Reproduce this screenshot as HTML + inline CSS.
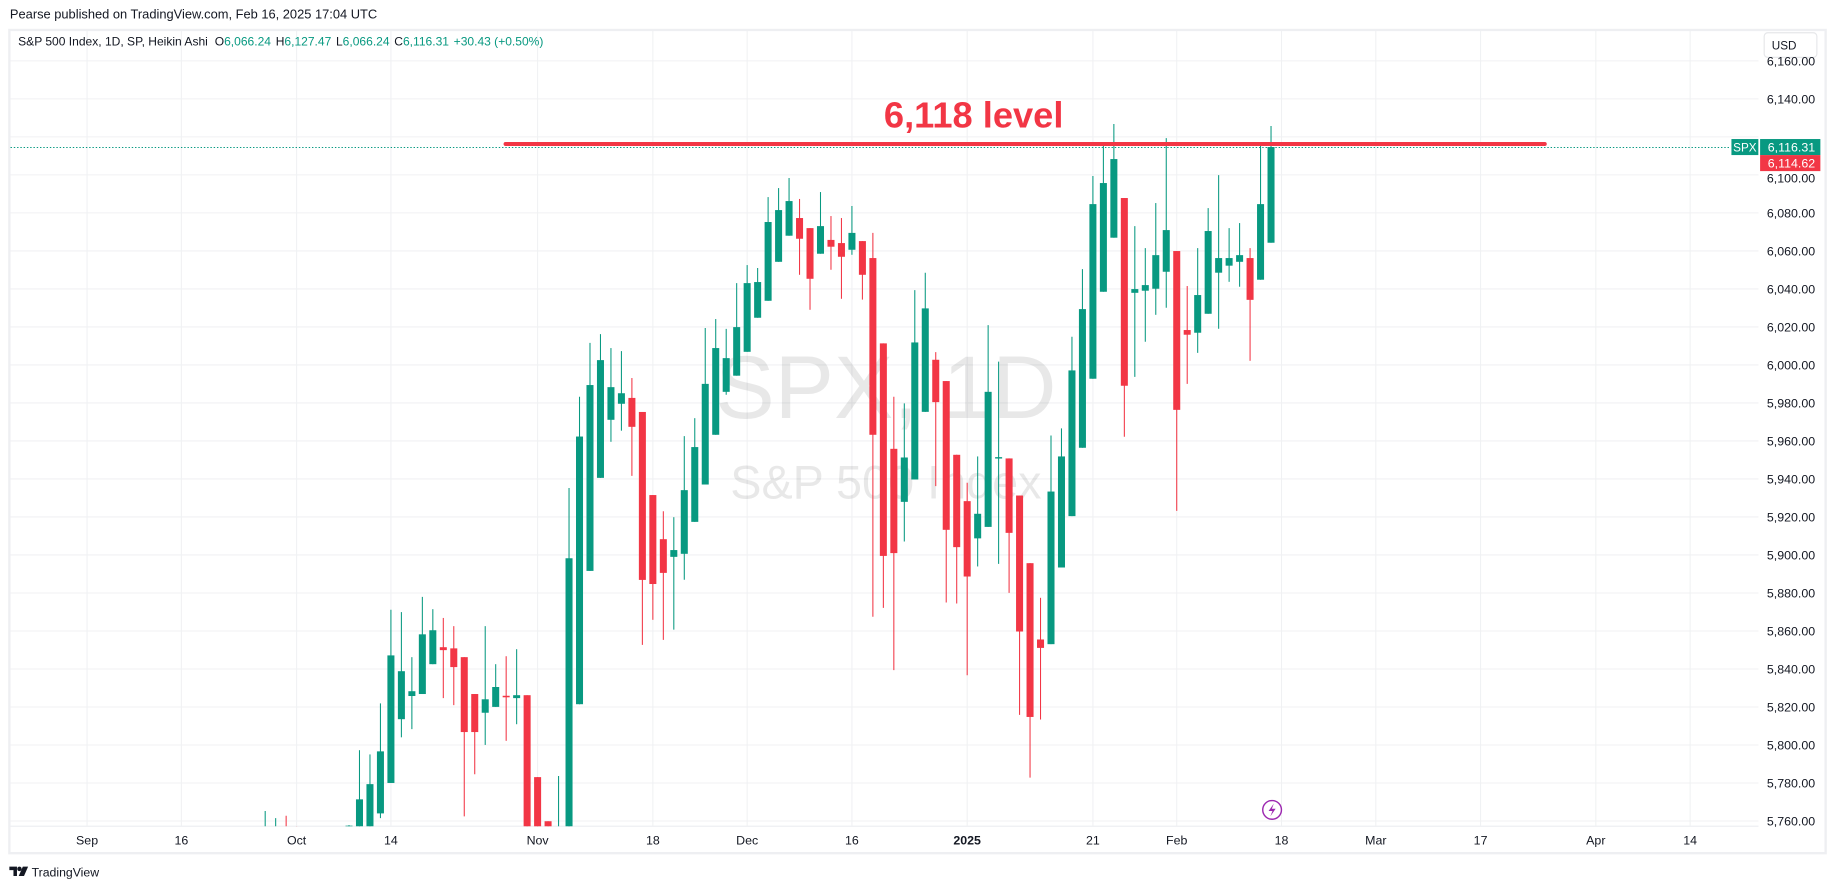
<!DOCTYPE html>
<html><head><meta charset="utf-8"><style>
html,body{margin:0;padding:0;background:#fff;}
svg{display:block;}
text{font-family:"Liberation Sans","DejaVu Sans",sans-serif;}
</style></head><body>
<svg id="s" width="1835" height="889" viewBox="0 0 1568 759.6" preserveAspectRatio="none" xmlns="http://www.w3.org/2000/svg">
<rect x="0" y="0" width="1568" height="759.6" fill="#fff"/>
<text x="8.5" y="16" font-size="11" fill="#131722">Pearse published on TradingView.com, Feb 16, 2025 17:04 UTC</text>
<rect x="8" y="25.6" width="1552" height="703.4" fill="none" stroke="#eeeff2" stroke-width="2"/>
<defs><clipPath id="pc"><rect x="9" y="26.5" width="1493.6" height="679.5"/></clipPath></defs>
<g id="grid" stroke="#f0f1f3" stroke-width="0.9"></g>
<line x1="9" y1="706" x2="1502.6" y2="706" stroke="#eeeff2" stroke-width="1"/>
<text x="757" y="357" font-size="76" fill="#000" fill-opacity="0.09" text-anchor="middle">SPX, 1D</text>
<text x="757" y="426" font-size="40" fill="#000" fill-opacity="0.09" text-anchor="middle">S&amp;P 500 Index</text>
<g id="candles" clip-path="url(#pc)"></g>
<line x1="9" y1="126" x2="1479" y2="126" stroke="#089981" stroke-width="0.9" stroke-dasharray="1.2,1.6"/>
<line x1="432" y1="123" x2="1320" y2="123" stroke="#f23645" stroke-width="3.4" stroke-linecap="round"/>
<text x="832" y="109" font-size="31" font-weight="bold" fill="#f23645" text-anchor="middle">6,118 level</text>
<text x="15.5" y="39" font-size="10.3" fill="#131722">S&amp;P 500 Index, 1D, SP, Heikin Ashi <tspan dx="3">O</tspan><tspan fill="#089981">6,066.24</tspan><tspan dx="4">H</tspan><tspan fill="#089981">6,127.47</tspan><tspan dx="4">L</tspan><tspan fill="#089981">6,066.24</tspan><tspan dx="4">C</tspan><tspan fill="#089981">6,116.31</tspan><tspan dx="4" fill="#089981">+30.43 (+0.50%)</tspan></text>
<rect x="1507.5" y="28" width="45" height="21" rx="3" fill="#fff" stroke="#e6e7ea" stroke-width="1"/>
<text x="1514" y="42.5" font-size="10" fill="#131722">USD</text>
<g id="plabels" font-size="10.6" fill="#131722" text-anchor="end"></g>
<rect x="1479.5" y="118.8" width="23" height="13.7" fill="#089981"/>
<text x="1491" y="129.3" font-size="10" fill="#fff" text-anchor="middle">SPX</text>
<rect x="1504" y="118.8" width="51.5" height="13.7" fill="#089981"/>
<text x="1551" y="129.5" font-size="10.6" fill="#fff" text-anchor="end">6,116.31</text>
<rect x="1504" y="132.5" width="51.5" height="13.7" fill="#f23645"/>
<text x="1551" y="143.2" font-size="10.6" fill="#fff" text-anchor="end">6,114.62</text>
<g id="dlabels" font-size="10.6" fill="#131722" text-anchor="middle"></g>
<circle cx="1087" cy="692" r="8" fill="#fff" stroke="#9c27b0" stroke-width="1.2"/>
<path d="M1088.5 686.5 L1084 693 L1087.3 693 L1085.5 697.5 L1090 691 L1086.8 691 Z" fill="#9c27b0"/>
<g transform="translate(8,745)">
<path d="M0 -4.5 H6.5 V3.5 H3.5 V-1.5 H0 Z" fill="#131722"/>
<circle cx="8.6" cy="-2.6" r="1.9" fill="#131722"/>
<path d="M11.5 -4.5 H16 L12.5 3.5 H8 Z" fill="#131722"/>
<text x="19" y="3.8" font-size="10.5" fill="#131722">TradingView</text>
</g>
</svg>
<script>
var NS="http://www.w3.org/2000/svg";
function el(p,t,a,txt){var e=document.createElementNS(NS,t);for(var k in a)e.setAttribute(k,a[k]);if(txt)e.textContent=txt;document.getElementById(p).appendChild(e);}
function yp(p){return 701.5-(p-5760)*1.6237;}
for(var p=5760;p<=6160;p+=20){var y=yp(p);el("grid","line",{x1:9,y1:y,x2:1502.6,y2:y});
 if(p!=6120&&p!=6100)el("plabels","text",{x:1551,y:y+3.8},p.toLocaleString("en-US")+".00");}
el("plabels","text",{x:1551,y:yp(6100)+6.5},"6,100.00");
var dl=[["Sep",0],["16",9],["Oct",20],["14",29],["Nov",43],["18",54],["Dec",63],["16",73],["2025",84],["21",96],["Feb",104],["18",114],["Mar",123],["17",133],["Apr",144],["14",153]];
dl.forEach(function(d){var x=74.4+8.953*d[1];el("grid","line",{x1:x,y1:26.5,x2:x,y2:706});
 var a={x:x,y:721.5};if(d[0]=="2025")a["font-weight"]="bold";el("dlabels","text",a,d[0]);});
var G="#089981",R="#f23645";
var c=[[17,'g',0,0,693,707],[18,'g',0,0,699,707],[19,'r',0,0,697,707],[20,'r',706,707,706,707],[25,'g',705.5,707,705,707],
[26,'g',683,710,641,710],[27,'g',670,710,644.6,710],[28,'g',642,695,601,699],[29,'g',560,669,521,669],[30,'g',573.5,614.5,523,630],
[31,'g',590.6,594.7,561.5,623],[32,'g',542,593,510,593],[33,'g',538.5,567.5,520.5,567.5],[34,'r',553,555.5,528,596.5],[35,'r',554,570,535,602.5],
[36,'r',561.5,625.5,561.5,697.5],[37,'r',593,625.5,593,661.5],[38,'g',597.5,609,535,636.5],[39,'g',587,604,567.5,604],[40,'r',594.5,595.8,560.7,633],
[41,'g',594,596.5,554.7,618.8],[42,'r',594,710,594,710],[43,'r',664,710,664,710],[44,'r',701.7,710,701.7,710],[45,'g',0,0,663,710],
[46,'g',477,710,417,710],[47,'g',373,601.7,339,601.7],[48,'g',329,487.8,293,487.8],[49,'g',307.7,408.3,285.5,408.3],[50,'g',330.8,358.7,297.4,377.5],
[51,'g',336,345,300,368],[52,'r',340,364.7,323,406.6],[53,'r',352,495.5,352,551],[54,'r',423,499,423,529.6],[55,'r',460.7,489.5,436.8,546.7],
[56,'g',470,475.8,441.9,538],[57,'g',418.8,473.2,372.6,495.4],[58,'g',382,445.9,357.3,445.9],[59,'g',328,414,280.3,414],[60,'g',297.4,371.5,272.6,371.5],
[61,'g',306,334.8,281,337.3],[62,'g',279.5,321,241.9,321],[63,'g',241.9,300.6,226.5,300.6],[64,'g',241,271.5,229,271.5],[65,'g',189.7,257,168.4,257],
[66,'g',179.5,223.7,160.7,223.7],[67,'g',171.8,201.4,152.1,201.4],[68,'r',186.3,204,170,234.8],[69,'r',194.9,238.2,194.9,264.7],[70,'g',193.2,216.8,164.1,216.8],
[71,'r',205,210.8,184.6,230.5],[72,'r',207.7,219.4,186.3,255.3],[73,'g',199,213.4,176,217.7],[74,'r',206,234.8,206,256],[75,'r',220.5,371.5,199,527],
[76,'r',293.4,475,293.4,519.4],[77,'r',383.5,472.6,339,572.6],[78,'g',390.9,428.8,344.7,462.7],[79,'g',292.6,409.7,247.9,409.7],[80,'g',263.5,351.9,233,351.9],
[81,'r',307.4,343.6,300.9,415.4],[82,'r',325.6,452.7,325.6,514.8],[83,'r',388.6,467.5,388.6,515.7],[84,'r',428.2,492.6,412.5,577],[85,'g',439,460,390,484],
[86,'g',334.8,450.2,277.8,450.2],[87,'g',390.6,391.8,309,481.8],[88,'r',391.7,455.3,391.7,506.6],[89,'r',423.4,539.6,423.4,610.8],[90,'r',481.2,612.6,481.2,664.4],
[91,'r',546.4,553.6,510.8,614.8],[92,'g',420,550.4,372.1,550.4],[93,'g',390,484.9,366,484.9],[94,'g',316.5,441,287.7,441],[95,'g',264.1,382.6,229.9,382.6],
[96,'g',174.4,323.6,150.4,323.6],[97,'g',156.4,249.3,121.4,249.3],[98,'g',135.9,203.1,106,203.1],[99,'r',169.2,329.6,169.2,373.2],[100,'g',247,250.2,193.2,322],
[101,'g',243.6,248.4,212,292],[102,'g',218,246.7,173.5,269],[103,'g',196.6,232.2,118,263],[104,'r',214.5,350.2,214.5,436.5],[105,'r',282,286,244.4,328],
[106,'g',252.1,284.3,212,301.5],[107,'g',197.4,268.1,177.8,268.1],[108,'g',220.5,233,149.6,280.9],[109,'g',220.5,227,194.9,240.8],[110,'g',218,223.7,190.6,245],
[111,'r',220.5,256.2,212,308.3],[112,'g',174.4,239,124.8,239],[113,'g',125.6,207.4,107.7,207.4]];
c.forEach(function(d){var x=74.4+8.953*d[0],col=d[1]=='g'?G:R;
 el("candles","line",{x1:x,y1:d[4],x2:x,y2:d[5],stroke:col,"stroke-width":0.9});
 if(d[3]>d[2])el("candles","rect",{x:x-3,y:d[2],width:6,height:Math.max(d[3]-d[2],1.2),fill:col});});
</script>
</body></html>
